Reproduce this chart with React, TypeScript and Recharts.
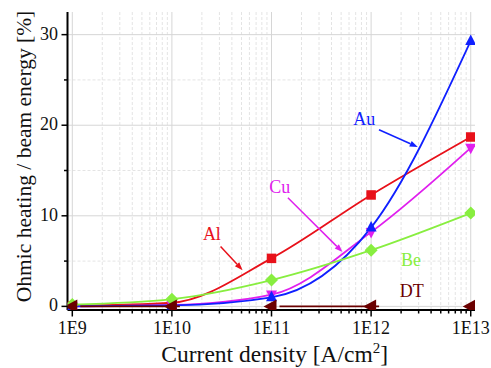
import React from 'react';
import { ComposedChart, Line, XAxis, YAxis, ReferenceLine, ReferenceDot, Label } from 'recharts';

// Current density [A/cm^2] at which each material was evaluated
const currentDensity = [1e9, 1e10, 1e11, 1e12, 1e13];

// Ohmic heating as a fraction of beam energy [%]
const alValues = [0.05, 0.4, 5.3, 12.3, 18.7];
const auValues = [0.0, 0.1, 1.0, 8.7, 29.3];
const cuValues = [0.0, 0.15, 1.3, 8.2, 17.5];
const beValues = [0.2, 0.8, 2.9, 6.2, 10.3];
const dtValues = [0, 0, 0, 0, 0];

// Axis ticks
const xMajorTicks = [1e9, 1e10, 1e11, 1e12, 1e13];
const xTickLabels = ['1E9', '1E10', '1E11', '1E12', '1E13'];
const xMinorMultipliers = [2, 3, 4, 5, 6, 7, 8, 9];
const yMajorTicks = [0, 10, 20, 30];
const yMinorTicks = [5, 15, 25];

const RED = '#e8111a';
const BLUE = '#1020ff';
const MAGENTA = '#e020ee';
const GREEN = '#88ee40';
const MAROON = '#6b0000';
const FONT = 'Liberation Serif';
const serif = { fontFamily: FONT };

const X_DOMAIN = [8.95e8, 1.104e13];
const Y_DOMAIN = [-0.4, 32.5];

const data = currentDensity.map((x, i) => ({
  x,
  al: alValues[i],
  au: auValues[i],
  cu: cuValues[i],
  be: beValues[i],
  dt: dtValues[i],
}));

const xMinorTicks = xMajorTicks.slice(0, -1).flatMap((d) => xMinorMultipliers.map((m) => m * d));
const xAllTicks = [...xMajorTicks, ...xMinorTicks].sort((a, b) => a - b);
const yAllTicks = [...yMajorTicks, ...yMinorTicks].sort((a, b) => a - b);

// Text annotations (data coordinates)
const annotationLabels = [
  { text: 'Al', x: 2.52e10, y: 8.0, color: RED },
  { text: 'Cu', x: 1.21e11, y: 13.2, color: MAGENTA },
  { text: 'Au', x: 8.55e11, y: 20.7, color: BLUE },
  { text: 'Be', x: 2.51e12, y: 5.2, color: GREEN },
  { text: 'DT', x: 2.56e12, y: 1.7, color: MAROON },
];

const annotationArrows = [
  { x1: 3.08e10, y1: 6.6, x2: 5.12e10, y2: 4.0, color: RED },
  { x1: 1.46e11, y1: 12.0, x2: 5.16e11, y2: 6.0, color: MAGENTA },
  { x1: 1.2e12, y1: 19.5, x2: 2.94e12, y2: 17.6, color: BLUE },
];

const isMajorX = (v: number) => xMajorTicks.includes(v);
const isMajorY = (v: number) => yMajorTicks.includes(v);

const BottomTick = (p: any) => {
  const { x, y, payload } = p;
  const major = isMajorX(payload.value);
  const idx = xMajorTicks.indexOf(payload.value);
  return (
    <g>
      <line x1={x} y1={y} x2={x} y2={y + (major ? 6.5 : 3.5)} stroke="#000" strokeWidth={1.5} />
      {major && (
        <text x={x} y={y + 24} textAnchor="middle" fontSize={18} style={serif} fill="#111">
          {xTickLabels[idx]}
        </text>
      )}
    </g>
  );
};

const TopTick = (p: any) => {
  const { x, y, payload } = p;
  const major = isMajorX(payload.value);
  return <line x1={x} y1={y} x2={x} y2={y + (major ? 6.5 : 4)} stroke="#000" strokeWidth={1.5} />;
};

const LeftTick = (p: any) => {
  const { x, y, payload } = p;
  const major = isMajorY(payload.value);
  return (
    <g>
      <line x1={x} y1={y} x2={x - (major ? 6 : 3.5)} y2={y} stroke="#000" strokeWidth={1.5} />
      {major && (
        <text x={x - 9.5} y={y + 5} textAnchor="end" fontSize={18} style={serif} fill="#111">
          {payload.value}
        </text>
      )}
    </g>
  );
};

const RightTick = (p: any) => {
  const { x, y, payload } = p;
  const major = isMajorY(payload.value);
  return <line x1={x} y1={y} x2={x - (major ? 7 : 4)} y2={y} stroke="#000" strokeWidth={1.5} />;
};

// Marker shapes
const SquareDot = ({ cx, cy, color }: any) => (
  <rect x={cx - 4.75} y={cy - 4.75} width={9.5} height={9.5} fill={color} />
);
const UpTriangle = ({ cx, cy, color }: any) => (
  <polygon points={`${cx},${cy - 6.5} ${cx - 5.5},${cy + 4} ${cx + 5.5},${cy + 4}`} fill={color} />
);
const DownTriangle = ({ cx, cy, color }: any) => (
  <polygon points={`${cx - 5.5},${cy - 4} ${cx + 5.5},${cy - 4} ${cx},${cy + 6.5}`} fill={color} />
);
const Diamond = ({ cx, cy, color }: any) => (
  <polygon points={`${cx},${cy - 6.5} ${cx + 6.5},${cy} ${cx},${cy + 6.5} ${cx - 6.5},${cy}`} fill={color} />
);
const LeftTriangle = ({ cx, cy, color }: any) => (
  <polygon points={`${cx - 8},${cy} ${cx + 5},${cy - 7} ${cx + 5},${cy + 7}`} fill={color} />
);

const dotRenderer = (Shape: any, color: string) => (p: any) => (
  <Shape key={`m-${p.index}`} cx={p.cx} cy={p.cy} color={color} />
);

const arrowShape = (color: string) => (p: any) => {
  const { x1, y1, x2, y2 } = p;
  const ang = Math.atan2(y2 - y1, x2 - x1);
  const L = 8;
  const W = 3;
  const c = Math.cos(ang);
  const s = Math.sin(ang);
  const bx = x2 - L * c;
  const by = y2 - L * s;
  return (
    <g>
      <line x1={x1} y1={y1} x2={bx} y2={by} stroke={color} strokeWidth={1.5} />
      <polygon
        points={`${x2},${y2} ${bx - W * s},${by + W * c} ${bx + W * s},${by - W * c}`}
        fill={color}
      />
    </g>
  );
};

const XTitle = (p: any) => {
  const vb = p.viewBox;
  const cx = vb.x + vb.width / 2 + 3.5;
  const y = vb.y + 51.5;
  return (
    <text x={cx} y={y} textAnchor="middle" fontSize={23.5} style={serif} fill="#111">
      Current density [A/cm
      <tspan dy={-9} fontSize={15}>2</tspan>
      <tspan dy={9}>]</tspan>
    </text>
  );
};

const YTitle = (p: any) => {
  const vb = p.viewBox;
  const x = vb.x + 30.5;
  const cy = vb.y + vb.height / 2 - 4.5;
  return (
    <text
      x={x}
      y={cy}
      transform={`rotate(-90, ${x}, ${cy})`}
      textAnchor="middle"
      fontSize={21.5}
      style={serif}
      fill="#111"
    >
      Ohmic heating / beam energy [%]
    </text>
  );
};

export default function App() {
  return (
    <div style={{ position: 'absolute', left: 0, top: 0, background: '#fff', fontFamily: FONT }}>
      <ComposedChart
        width={491}
        height={368}
        data={data}
        margin={{ top: 12, right: 16, bottom: 0, left: 0 }}
      >
        {/* minor grid */}
        {xMinorTicks.map((v) => (
          <ReferenceLine key={`gx-${v}`} x={v} stroke="#e4e4e4" strokeDasharray="3 2" strokeWidth={1} />
        ))}
        {yMinorTicks.map((v) => (
          <ReferenceLine key={`gy-${v}`} y={v} stroke="#e4e4e4" strokeDasharray="3 2" strokeWidth={1} />
        ))}
        {/* major grid */}
        {xMajorTicks.map((v) => (
          <ReferenceLine key={`GX-${v}`} x={v} stroke="#d6d6d6" strokeWidth={1} />
        ))}
        {yMajorTicks.map((v) => (
          <ReferenceLine key={`GY-${v}`} y={v} stroke="#d6d6d6" strokeWidth={1} />
        ))}

        <XAxis
          dataKey="x"
          type="number"
          scale="log"
          domain={X_DOMAIN}
          allowDataOverflow
          ticks={xAllTicks}
          interval={0}
          tickSize={0}
          tickMargin={0}
          tickLine={false}
          tick={(p: any) => <BottomTick {...p} />}
          height={58}
          axisLine={{ stroke: '#000', strokeWidth: 2 }}
        >
          <Label content={XTitle} />
        </XAxis>
        <XAxis
          xAxisId="top"
          orientation="top"
          dataKey="x"
          type="number"
          scale="log"
          domain={X_DOMAIN}
          allowDataOverflow
          ticks={xAllTicks}
          interval={0}
          tickSize={0}
          tickMargin={0}
          tickLine={false}
          tick={(p: any) => <TopTick {...p} />}
          height={0}
          axisLine={{ stroke: '#000', strokeWidth: 2 }}
        />
        <YAxis
          type="number"
          domain={Y_DOMAIN}
          allowDataOverflow
          ticks={yAllTicks}
          interval={0}
          tickSize={0}
          tickMargin={0}
          tickLine={false}
          tick={(p: any) => <LeftTick {...p} />}
          width={67.5}
          axisLine={{ stroke: '#000', strokeWidth: 2 }}
        >
          <Label content={YTitle} />
        </YAxis>
        <YAxis
          yAxisId="right"
          orientation="right"
          type="number"
          domain={Y_DOMAIN}
          allowDataOverflow
          ticks={yAllTicks}
          interval={0}
          tickSize={0}
          tickMargin={0}
          tickLine={false}
          tick={(p: any) => <RightTick {...p} />}
          width={0}
          axisLine={{ stroke: '#000', strokeWidth: 2 }}
        />

        <Line dataKey="al" type="monotone" stroke={RED} strokeWidth={1.8}
          dot={dotRenderer(SquareDot, RED)} activeDot={false} isAnimationActive={false} />
        <Line dataKey="cu" type="monotone" stroke={MAGENTA} strokeWidth={1.8}
          dot={dotRenderer(DownTriangle, MAGENTA)} activeDot={false} isAnimationActive={false} />
        <Line dataKey="au" type="monotone" stroke={BLUE} strokeWidth={1.8}
          dot={dotRenderer(UpTriangle, BLUE)} activeDot={false} isAnimationActive={false} />
        <Line dataKey="be" type="monotone" stroke={GREEN} strokeWidth={1.8}
          dot={dotRenderer(Diamond, GREEN)} activeDot={false} isAnimationActive={false} />
        <Line dataKey="dt" type="linear" stroke={MAROON} strokeWidth={1.8} strokeDasharray="0 8 91.6"
          dot={dotRenderer(LeftTriangle, MAROON)} activeDot={false} isAnimationActive={false} />

        {annotationArrows.map((a, i) => (
          <ReferenceLine
            key={`arrow-${i}`}
            segment={[{ x: a.x1, y: a.y1 }, { x: a.x2, y: a.y2 }]}
            stroke={a.color}
            shape={arrowShape(a.color)}
          />
        ))}
        {annotationLabels.map((a) => (
          <ReferenceDot key={`lbl-${a.text}`} x={a.x} y={a.y} r={0} fill="none" stroke="none">
            <Label value={a.text} position="center" fill={a.color} fontSize={18} style={serif} />
          </ReferenceDot>
        ))}
      </ComposedChart>
    </div>
  );
}
